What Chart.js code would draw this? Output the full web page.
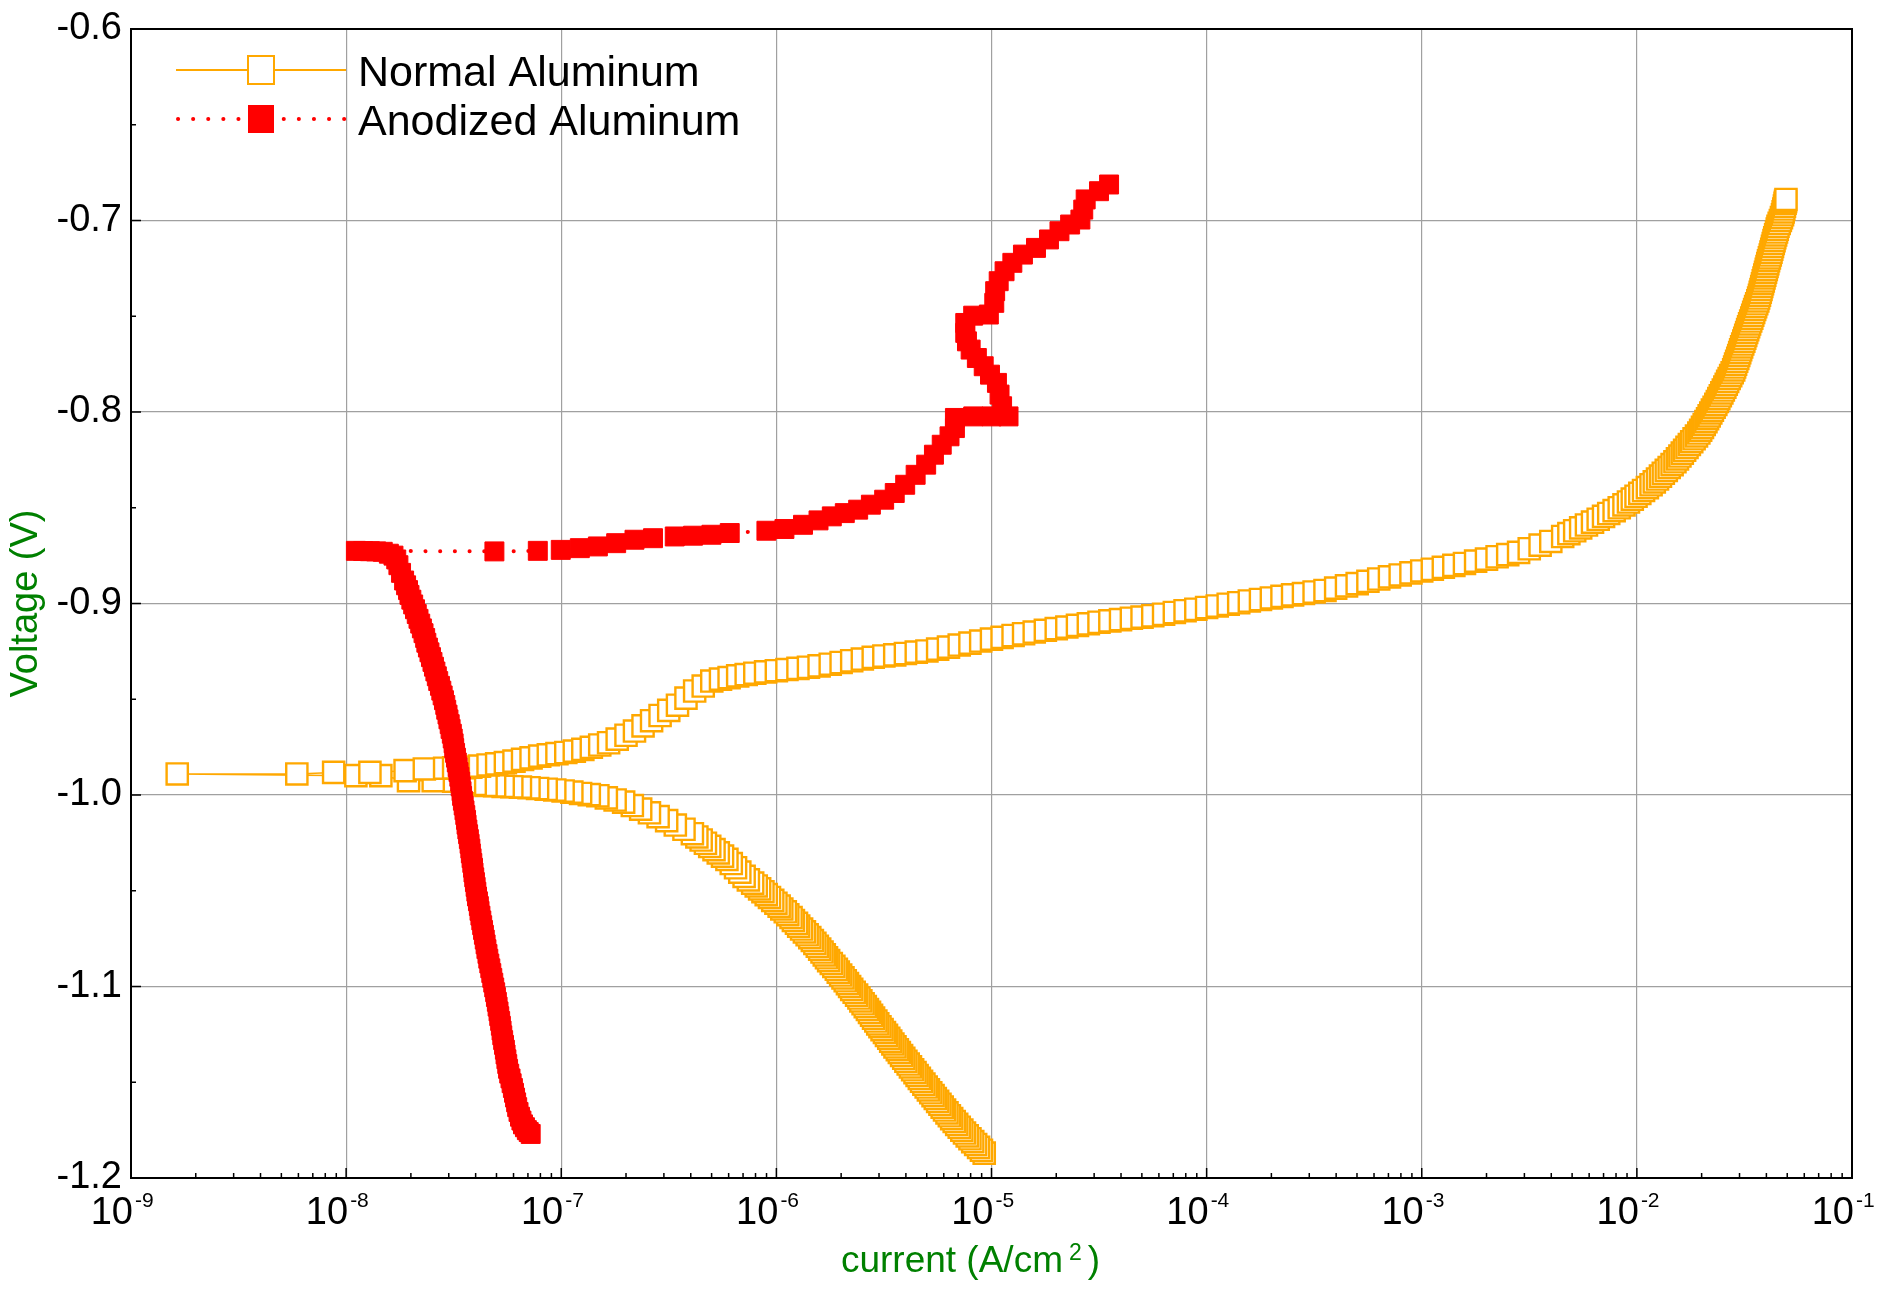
<!DOCTYPE html>
<html>
<head>
<meta charset="utf-8">
<title>Polarization curves</title>
<script src="https://cdn.jsdelivr.net/npm/chart.js@4.4.1/dist/chart.umd.min.js"></script>
<style>
  html, body { margin: 0; background: #fff; }
  #wrap { width: 1888px; height: 1292px; position: relative; }
</style>
</head>
<body>
<div id="wrap"><canvas id="chart"></canvas></div>
<script>
// axis ticks
const voltageTicks = [-1.2, -1.1, -1.0, -0.9, -0.8, -0.7, -0.6];
const voltageLabels = ['-1.2', '-1.1', '-1.0', '-0.9', '-0.8', '-0.7', '-0.6'];
const currentTicks = [1e-9, 1e-8, 1e-7, 1e-6, 1e-5, 1e-4, 1e-3, 1e-2, 1e-1];
const currentExponents = ['-9', '-8', '-7', '-6', '-5', '-4', '-3', '-2', '-1'];

// Normal aluminum, cathodic sweep (from -1.19 V up to the corrosion potential)
const normalCathodicVoltage = [
  -1.187, -1.1855, -1.184, -1.1825, -1.181, -1.1795, -1.178, -1.1765, -1.175, -1.1735,
  -1.172, -1.1705, -1.169, -1.1675, -1.166, -1.1645, -1.163, -1.1615, -1.160, -1.1585,
  -1.157, -1.1555, -1.154, -1.1525, -1.151, -1.1495, -1.148, -1.1465, -1.145, -1.1435,
  -1.142, -1.1405, -1.139, -1.1375, -1.136, -1.1345, -1.133, -1.1315, -1.130, -1.1285,
  -1.127, -1.1255, -1.124, -1.1225, -1.121, -1.1195, -1.118, -1.1165, -1.115, -1.1135,
  -1.112, -1.1105, -1.109, -1.1075, -1.106, -1.1045, -1.103, -1.1015, -1.100, -1.0985,
  -1.097, -1.0955, -1.094, -1.0925, -1.091, -1.0895, -1.088, -1.0865, -1.085, -1.0835,
  -1.082, -1.0805, -1.079, -1.0775, -1.076, -1.0745, -1.073, -1.0715, -1.070, -1.0685,
  -1.067, -1.0655, -1.064, -1.0625, -1.061, -1.0595, -1.058, -1.0565, -1.055, -1.0535,
  -1.052, -1.0505, -1.049, -1.0475, -1.046,
  -1.0443, -1.0425, -1.0403, -1.038, -1.0358, -1.0336, -1.0319, -1.0302, -1.0285, -1.0268,
  -1.0252, -1.0235, -1.0219, -1.0202, -1.0179, -1.0157, -1.0134, -1.0113, -1.0093, -1.0074,
  -1.0055, -1.0037, -1.0026, -1.0015, -1.0004, -0.9998, -0.9992, -0.9985, -0.9979, -0.9974,
  -0.997, -0.9966, -0.9962, -0.9959, -0.9957, -0.9955, -0.9952, -0.995, -0.9945, -0.9935, -0.9928,
  -0.9925, -0.9925, -0.9899, -0.9899, -0.989, -0.989, -0.9882, -0.9882, -0.9873, -0.9864, -0.986
];
const normalCathodicCurrent = [
  9.25e-6, 8.98e-6, 8.71e-6, 8.44e-6, 8.18e-6, 7.94e-6, 7.71e-6, 7.49e-6, 7.28e-6, 7.08e-6,
  6.89e-6, 6.71e-6, 6.53e-6, 6.37e-6, 6.21e-6, 6.05e-6, 5.90e-6, 5.76e-6, 5.62e-6, 5.48e-6,
  5.35e-6, 5.22e-6, 5.09e-6, 4.97e-6, 4.85e-6, 4.73e-6, 4.62e-6, 4.51e-6, 4.41e-6, 4.30e-6,
  4.20e-6, 4.10e-6, 4.00e-6, 3.91e-6, 3.82e-6, 3.73e-6, 3.65e-6, 3.56e-6, 3.48e-6, 3.40e-6,
  3.33e-6, 3.25e-6, 3.18e-6, 3.10e-6, 3.03e-6, 2.96e-6, 2.90e-6, 2.83e-6, 2.77e-6, 2.71e-6,
  2.65e-6, 2.59e-6, 2.53e-6, 2.47e-6, 2.42e-6, 2.36e-6, 2.30e-6, 2.24e-6, 2.19e-6, 2.14e-6,
  2.09e-6, 2.04e-6, 1.99e-6, 1.94e-6, 1.90e-6, 1.85e-6, 1.80e-6, 1.75e-6, 1.71e-6, 1.67e-6,
  1.63e-6, 1.59e-6, 1.55e-6, 1.51e-6, 1.47e-6, 1.43e-6, 1.39e-6, 1.35e-6, 1.31e-6, 1.27e-6,
  1.24e-6, 1.20e-6, 1.17e-6, 1.13e-6, 1.10e-6, 1.06e-6, 1.03e-6, 9.95e-7, 9.62e-7, 9.29e-7,
  8.97e-7, 8.66e-7, 8.36e-7, 8.06e-7, 7.76e-7,
  7.41e-7, 7.08e-7, 6.76e-7, 6.46e-7, 6.17e-7, 5.89e-7, 5.62e-7, 5.37e-7, 5.13e-7, 4.90e-7,
  4.68e-7, 4.47e-7, 4.27e-7, 4.07e-7, 3.72e-7, 3.39e-7, 3.09e-7, 2.82e-7, 2.57e-7, 2.34e-7,
  2.14e-7, 1.95e-7, 1.78e-7, 1.62e-7, 1.48e-7, 1.35e-7, 1.23e-7, 1.12e-7, 1.02e-7, 9.33e-8,
  8.51e-8, 7.76e-8, 7.08e-8, 6.46e-8, 5.89e-8, 5.37e-8, 4.90e-8, 4.47e-8, 3.98e-8, 3.55e-8, 3.16e-8,
  2.54e-8, 1.95e-8, 1.45e-8, 1.11e-8, 1.64e-9, 5.90e-9, 8.75e-9, 1.29e-8, 1.88e-8, 2.31e-8, 2.87e-8
];

// Normal aluminum, anodic sweep
const normalAnodicVoltage = [
  -0.9858, -0.9857, -0.9855, -0.9849, -0.9843, -0.9837, -0.9831, -0.9823, -0.9814, -0.9806,
  -0.9797, -0.979, -0.9784, -0.9778, -0.9771, -0.9762, -0.9751, -0.9739, -0.9727, -0.9708,
  -0.9688, -0.9666, -0.9639, -0.9612, -0.9585, -0.9558, -0.9531, -0.9494, -0.9457, -0.9431,
  -0.9405, -0.9395, -0.9387, -0.9378, -0.9371, -0.9364,
  -0.9357, -0.9351, -0.9345, -0.9339, -0.9333, -0.9326, -0.9317, -0.9308, -0.9299, -0.929,
  -0.9281, -0.9274, -0.9268, -0.9261, -0.9254, -0.9248, -0.9238, -0.9228, -0.9217, -0.9207,
  -0.9196, -0.9186, -0.9177, -0.9167, -0.9158, -0.9149, -0.914, -0.9131, -0.9123, -0.9114,
  -0.9106, -0.9098, -0.9091, -0.9084, -0.9077, -0.9071, -0.9064, -0.9056, -0.9047, -0.9038,
  -0.903, -0.9021, -0.9013, -0.9004, -0.8996, -0.8987, -0.8979, -0.8971, -0.8963, -0.8955,
  -0.8948, -0.894, -0.8932, -0.892, -0.8908, -0.8896, -0.8884, -0.8872, -0.8861, -0.8851,
  -0.884, -0.883, -0.8821, -0.8811, -0.8801, -0.8791, -0.8779, -0.8768, -0.8756, -0.8745,
  -0.8733, -0.8714, -0.8695, -0.8676,
  -0.865, -0.8635, -0.862, -0.8605, -0.859, -0.8575, -0.856, -0.8545, -0.853, -0.8515,
  -0.850, -0.8485, -0.847, -0.8455, -0.844, -0.8425, -0.841, -0.8395, -0.838, -0.8365,
  -0.835, -0.8335, -0.832, -0.8305, -0.829, -0.8275, -0.826, -0.8245, -0.823, -0.8215,
  -0.820, -0.8185, -0.817, -0.8155, -0.814, -0.8125, -0.811, -0.8095, -0.808, -0.8065,
  -0.805, -0.8035, -0.802, -0.8005, -0.799, -0.7975, -0.796, -0.7945, -0.793, -0.7915,
  -0.790, -0.7885, -0.787, -0.7855, -0.784, -0.7825, -0.781, -0.7795, -0.778, -0.7765,
  -0.775, -0.7735, -0.772, -0.7705, -0.769, -0.7675, -0.766, -0.7645, -0.763, -0.7615,
  -0.760, -0.7585, -0.757, -0.7555, -0.754, -0.7525, -0.751, -0.7495, -0.748, -0.7465,
  -0.745, -0.7435, -0.742, -0.7405, -0.739, -0.7375, -0.736, -0.7345, -0.733, -0.7315,
  -0.730, -0.7285, -0.727, -0.7255, -0.724, -0.7225, -0.721, -0.7195, -0.718, -0.7165,
  -0.715, -0.7135, -0.712, -0.7105, -0.709, -0.7075, -0.706, -0.7045, -0.703, -0.7015,
  -0.700, -0.6985, -0.697, -0.6955, -0.694, -0.6925, -0.691, -0.690, -0.689
];
const normalAnodicCurrent = [
  3.16e-8, 3.47e-8, 3.80e-8, 4.17e-8, 4.57e-8, 5.01e-8, 5.50e-8, 6.03e-8, 6.61e-8, 7.24e-8,
  7.94e-8, 8.71e-8, 9.55e-8, 1.05e-7, 1.15e-7, 1.26e-7, 1.38e-7, 1.51e-7, 1.66e-7, 1.82e-7,
  2.00e-7, 2.19e-7, 2.40e-7, 2.63e-7, 2.88e-7, 3.16e-7, 3.47e-7, 3.80e-7, 4.17e-7, 4.57e-7,
  5.01e-7, 5.50e-7, 6.03e-7, 6.61e-7, 7.24e-7, 7.94e-7,
  8.91e-7, 1.00e-6, 1.12e-6, 1.26e-6, 1.41e-6, 1.58e-6, 1.78e-6, 2.00e-6, 2.24e-6, 2.51e-6,
  2.82e-6, 3.16e-6, 3.55e-6, 3.98e-6, 4.47e-6, 5.01e-6, 5.62e-6, 6.31e-6, 7.08e-6, 7.94e-6,
  8.91e-6, 1.00e-5, 1.12e-5, 1.26e-5, 1.41e-5, 1.58e-5, 1.78e-5, 2.00e-5, 2.24e-5, 2.51e-5,
  2.82e-5, 3.16e-5, 3.55e-5, 3.98e-5, 4.47e-5, 5.01e-5, 5.62e-5, 6.31e-5, 7.08e-5, 7.94e-5,
  8.91e-5, 1.00e-4, 1.12e-4, 1.26e-4, 1.41e-4, 1.58e-4, 1.78e-4, 2.00e-4, 2.24e-4, 2.51e-4,
  2.82e-4, 3.16e-4, 3.55e-4, 3.98e-4, 4.47e-4, 5.01e-4, 5.62e-4, 6.31e-4, 7.08e-4, 7.94e-4,
  8.91e-4, 1.00e-3, 1.12e-3, 1.26e-3, 1.41e-3, 1.58e-3, 1.78e-3, 2.00e-3, 2.24e-3, 2.51e-3,
  2.82e-3, 3.16e-3, 3.55e-3, 3.98e-3,
  4.52e-3, 4.83e-3, 5.14e-3, 5.48e-3, 5.83e-3, 6.22e-3, 6.61e-3, 7.00e-3, 7.40e-3, 7.84e-3,
  8.28e-3, 8.71e-3, 9.14e-3, 9.52e-3, 9.91e-3, 1.032e-2, 1.074e-2, 1.119e-2, 1.164e-2, 1.205e-2,
  1.247e-2, 1.287e-2, 1.327e-2, 1.370e-2, 1.413e-2, 1.458e-2, 1.503e-2, 1.544e-2, 1.585e-2, 1.626e-2,
  1.667e-2, 1.710e-2, 1.754e-2, 1.799e-2, 1.845e-2, 1.893e-2, 1.941e-2, 1.979e-2, 2.018e-2, 2.056e-2,
  2.094e-2, 2.131e-2, 2.168e-2, 2.206e-2, 2.244e-2, 2.286e-2, 2.328e-2, 2.366e-2, 2.404e-2, 2.443e-2,
  2.483e-2, 2.523e-2, 2.564e-2, 2.603e-2, 2.642e-2, 2.685e-2, 2.729e-2, 2.773e-2, 2.818e-2, 2.847e-2,
  2.877e-2, 2.910e-2, 2.944e-2, 2.975e-2, 3.006e-2, 3.037e-2, 3.069e-2, 3.105e-2, 3.141e-2, 3.173e-2,
  3.206e-2, 3.239e-2, 3.273e-2, 3.307e-2, 3.342e-2, 3.381e-2, 3.420e-2, 3.455e-2, 3.491e-2, 3.528e-2,
  3.565e-2, 3.606e-2, 3.648e-2, 3.681e-2, 3.715e-2, 3.745e-2, 3.776e-2, 3.806e-2, 3.837e-2, 3.868e-2,
  3.899e-2, 3.931e-2, 3.963e-2, 3.995e-2, 4.027e-2, 4.060e-2, 4.093e-2, 4.131e-2, 4.169e-2, 4.202e-2,
  4.236e-2, 4.270e-2, 4.305e-2, 4.340e-2, 4.375e-2, 4.416e-2, 4.457e-2, 4.493e-2, 4.529e-2, 4.587e-2,
  4.645e-2, 4.699e-2, 4.753e-2, 4.786e-2, 4.819e-2, 4.853e-2, 4.887e-2, 4.910e-2, 4.932e-2
];

// Anodized aluminum, cathodic sweep
const anodizedCathodicVoltage = [
  -1.177, -1.176, -1.175, -1.1735, -1.172, -1.170, -1.168, -1.1655, -1.163, -1.1605,
  -1.158, -1.1555, -1.153, -1.1505, -1.148, -1.1455, -1.143, -1.1405, -1.138, -1.1355,
  -1.133, -1.1305, -1.128, -1.1255, -1.123, -1.1205, -1.118, -1.1155, -1.113, -1.1105,
  -1.108, -1.1055, -1.103, -1.1005, -1.098, -1.0955, -1.093, -1.0905, -1.088, -1.0855,
  -1.083, -1.0805, -1.078, -1.0755, -1.073, -1.0705, -1.068, -1.0655, -1.063, -1.0605,
  -1.058, -1.0555, -1.053, -1.0505, -1.048, -1.0455, -1.043, -1.0405, -1.038, -1.0355,
  -1.033, -1.0305, -1.028, -1.0255, -1.023, -1.0205, -1.018, -1.0155, -1.013, -1.0105,
  -1.008, -1.0055, -1.003, -1.0005, -0.998, -0.9955, -0.993, -0.9905, -0.988, -0.9855,
  -0.983, -0.9805, -0.978, -0.9755, -0.973, -0.9705, -0.968, -0.9655, -0.963, -0.9605,
  -0.958, -0.9555, -0.953, -0.9505, -0.948, -0.9455, -0.943, -0.9405, -0.938, -0.9355,
  -0.933, -0.9305, -0.928, -0.9255, -0.923, -0.9205, -0.918, -0.9155, -0.913, -0.9105,
  -0.908, -0.9055, -0.903, -0.9005, -0.898, -0.8955, -0.893, -0.8905, -0.888,
  -0.884, -0.880, -0.877, -0.875, -0.874, -0.873, -0.8728, -0.8727, -0.8726, -0.8725
];
const anodizedCathodicCurrent = [
  7.21e-8, 7.06e-8, 6.92e-8, 6.78e-8, 6.64e-8, 6.53e-8, 6.43e-8, 6.33e-8, 6.24e-8, 6.17e-8,
  6.10e-8, 6.03e-8, 5.96e-8, 5.88e-8, 5.81e-8, 5.73e-8, 5.66e-8, 5.61e-8, 5.56e-8, 5.51e-8,
  5.47e-8, 5.42e-8, 5.37e-8, 5.32e-8, 5.28e-8, 5.24e-8, 5.20e-8, 5.15e-8, 5.11e-8, 5.06e-8,
  5.02e-8, 4.97e-8, 4.93e-8, 4.88e-8, 4.83e-8, 4.78e-8, 4.73e-8, 4.68e-8, 4.63e-8, 4.58e-8,
  4.54e-8, 4.49e-8, 4.45e-8, 4.41e-8, 4.37e-8, 4.33e-8, 4.29e-8, 4.25e-8, 4.21e-8, 4.17e-8,
  4.14e-8, 4.10e-8, 4.06e-8, 4.03e-8, 4.00e-8, 3.97e-8, 3.94e-8, 3.91e-8, 3.89e-8, 3.86e-8,
  3.83e-8, 3.80e-8, 3.78e-8, 3.75e-8, 3.72e-8, 3.69e-8, 3.66e-8, 3.63e-8, 3.61e-8, 3.58e-8,
  3.55e-8, 3.52e-8, 3.49e-8, 3.46e-8, 3.44e-8, 3.41e-8, 3.39e-8, 3.36e-8, 3.33e-8, 3.30e-8,
  3.27e-8, 3.24e-8, 3.21e-8, 3.18e-8, 3.16e-8, 3.13e-8, 3.10e-8, 3.06e-8, 3.03e-8, 2.99e-8,
  2.96e-8, 2.92e-8, 2.89e-8, 2.85e-8, 2.81e-8, 2.77e-8, 2.73e-8, 2.68e-8, 2.64e-8, 2.60e-8,
  2.56e-8, 2.52e-8, 2.48e-8, 2.44e-8, 2.40e-8, 2.36e-8, 2.33e-8, 2.29e-8, 2.25e-8, 2.21e-8,
  2.17e-8, 2.13e-8, 2.09e-8, 2.05e-8, 2.01e-8, 1.97e-8, 1.94e-8, 1.90e-8, 1.86e-8,
  1.80e-8, 1.75e-8, 1.71e-8, 1.66e-8, 1.58e-8, 1.48e-8, 1.38e-8, 1.29e-8, 1.20e-8, 1.11e-8
];

// Anodized aluminum, anodic sweep
const anodizedAnodicVoltage = [
  -0.8728, -0.8725, -0.8720, -0.8711, -0.8702, -0.8685, -0.8667, -0.8659, -0.8650, -0.8646,
  -0.8641, -0.8632, -0.8620, -0.8611, -0.8589, -0.8566, -0.8545, -0.8528, -0.8510, -0.8484,
  -0.8458, -0.8423, -0.8380, -0.8328, -0.8275, -0.8223, -0.8171, -0.8127, -0.8084, -0.8031,
  -0.8023, -0.8023, -0.8023, -0.7970, -0.7909, -0.7848, -0.7805, -0.7761, -0.7718, -0.7674,
  -0.7631, -0.7587, -0.7535, -0.7497, -0.7491, -0.7430, -0.7369, -0.7317, -0.7265, -0.7221,
  -0.7178, -0.7143, -0.7099, -0.7056, -0.7021, -0.6995, -0.6943, -0.6890, -0.6847, -0.6812
];
const anodizedAnodicCurrent = [
  4.89e-8, 7.78e-8, 9.95e-8, 1.22e-7, 1.48e-7, 1.80e-7, 2.19e-7, 2.67e-7, 3.37e-7, 4.10e-7,
  4.99e-7, 6.07e-7, 8.99e-7, 1.09e-6, 1.33e-6, 1.57e-6, 1.81e-6, 2.08e-6, 2.40e-6, 2.75e-6,
  3.17e-6, 3.55e-6, 3.97e-6, 4.44e-6, 4.97e-6, 5.40e-6, 5.87e-6, 6.38e-6, 6.76e-6, 6.76e-6,
  8.22e-6, 1.00e-5, 1.20e-5, 1.12e-5, 1.09e-5, 1.06e-5, 9.84e-6, 9.20e-6, 8.55e-6, 8.00e-6,
  7.69e-6, 7.55e-6, 7.55e-6, 8.22e-6, 9.72e-6, 1.03e-5, 1.04e-5, 1.08e-5, 1.15e-5, 1.25e-5,
  1.40e-5, 1.61e-5, 1.85e-5, 2.07e-5, 2.32e-5, 2.59e-5, 2.67e-5, 2.74e-5, 3.16e-5, 3.52e-5
];

const ORANGE = '#ffa800';
const RED = '#ff0000';
const GREEN = '#008000';
const FONT = '"Liberation Sans", Arial, sans-serif';

function toPoints(currents, voltages) {
  return currents.map((c, i) => ({ x: c, y: voltages[i] }));
}
const normalPoints = toPoints(normalCathodicCurrent, normalCathodicVoltage)
  .concat(toPoints(normalAnodicCurrent, normalAnodicVoltage));
const anodizedPoints = toPoints(anodizedCathodicCurrent, anodizedCathodicVoltage)
  .concat(toPoints(anodizedAnodicCurrent, anodizedAnodicVoltage));

// frame, inward ticks, tick labels, titles and legend
const decorations = {
  id: 'decorations',
  afterDraw(chart) {
    const { ctx, chartArea: a } = chart;
    const xs = chart.scales.x, ys = chart.scales.y;
    ctx.save();

    ctx.strokeStyle = '#000';
    ctx.lineWidth = 2;
    ctx.strokeRect(a.left, a.top, a.right - a.left, a.bottom - a.top);

    ctx.beginPath();
    voltageTicks.forEach((v, i) => {
      const py = ys.getPixelForValue(v);
      ctx.moveTo(a.left, py); ctx.lineTo(a.left + 10, py);
      if (i < voltageTicks.length - 1) {
        const pm = (py + ys.getPixelForValue(voltageTicks[i + 1])) / 2;
        ctx.moveTo(a.left, pm); ctx.lineTo(a.left + 5, pm);
      }
    });
    currentTicks.forEach((c, i) => {
      const px = xs.getPixelForValue(c);
      ctx.moveTo(px, a.bottom); ctx.lineTo(px, a.bottom - 10);
      if (i < currentTicks.length - 1) {
        for (let m = 2; m <= 9; m++) {
          const pm = xs.getPixelForValue(c * m);
          ctx.moveTo(pm, a.bottom); ctx.lineTo(pm, a.bottom - 5);
        }
      }
    });
    ctx.lineWidth = 1.5;
    ctx.stroke();

    // y tick labels
    ctx.fillStyle = '#000';
    ctx.font = '38px ' + FONT;
    ctx.textAlign = 'right';
    ctx.textBaseline = 'alphabetic';
    voltageTicks.forEach((v, i) => {
      ctx.fillText(voltageLabels[i], a.left - 9, ys.getPixelForValue(v) + 10);
    });

    // x tick labels 10^n
    ctx.textAlign = 'left';
    currentTicks.forEach((c, i) => {
      const px = xs.getPixelForValue(c);
      ctx.font = '38px ' + FONT;
      const w10 = ctx.measureText('10').width;
      const x0 = px - w10 + 2;
      ctx.fillText('10', x0, a.bottom + 46);
      ctx.font = '21px ' + FONT;
      ctx.fillText(currentExponents[i], x0 + w10 + 2, a.bottom + 29);
    });

    // axis titles
    ctx.fillStyle = GREEN;
    ctx.save();
    ctx.translate(37, (a.top + a.bottom) / 2);
    ctx.rotate(-Math.PI / 2);
    ctx.textAlign = 'center';
    ctx.font = '38px ' + FONT;
    ctx.fillText('Voltage (V)', 0, 0);
    ctx.restore();

    ctx.textAlign = 'left';
    ctx.font = '37px ' + FONT;
    const t1 = 'current (A/cm', t3 = ')';
    const w1 = ctx.measureText(t1).width, w3 = ctx.measureText(t3).width;
    ctx.font = '23px ' + FONT;
    const w2 = ctx.measureText('2').width;
    const total = w1 + 6 + w2 + 6 + w3;
    let tx = (a.left + a.right) / 2 - 21 - total / 2;
    const ty = a.bottom + 94;
    ctx.font = '37px ' + FONT;
    ctx.fillText(t1, tx, ty);
    tx += w1 + 6;
    ctx.font = '23px ' + FONT;
    ctx.fillText('2', tx, ty - 12);
    tx += w2 + 6;
    ctx.font = '37px ' + FONT;
    ctx.fillText(t3, tx, ty);

    // legend
    const lx0 = a.left + 45, lx1 = a.left + 215, mx = a.left + 130;
    const r1 = a.top + 41, r2 = a.top + 90;
    ctx.strokeStyle = ORANGE;
    ctx.lineWidth = 2;
    ctx.beginPath(); ctx.moveTo(lx0, r1); ctx.lineTo(lx1, r1); ctx.stroke();
    ctx.fillStyle = '#fff';
    ctx.fillRect(mx - 13, r1 - 14, 26, 28);
    ctx.strokeRect(mx - 13, r1 - 14, 26, 28);

    ctx.strokeStyle = RED;
    ctx.lineWidth = 4;
    ctx.lineCap = 'round';
    ctx.setLineDash([0.1, 15]);
    ctx.beginPath(); ctx.moveTo(lx0 + 2, r2); ctx.lineTo(lx1, r2); ctx.stroke();
    ctx.setLineDash([]);
    ctx.fillStyle = RED;
    ctx.fillRect(mx - 13, r2 - 14, 26, 28);

    ctx.fillStyle = '#000';
    ctx.font = '43px ' + FONT;
    ctx.fillText('Normal Aluminum', a.left + 227, r1 + 16);
    ctx.fillText('Anodized Aluminum', a.left + 227, r2 + 16);

    ctx.restore();
  }
};

new Chart(document.getElementById('chart'), {
  type: 'scatter',
  data: {
    datasets: [
      {
        label: 'Normal Aluminum',
        data: normalPoints,
        showLine: true,
        borderColor: ORANGE,
        borderWidth: 1.5,
        pointStyle: 'rect',
        pointRadius: 15,
        pointBorderWidth: 2.4,
        pointBorderColor: ORANGE,
        pointBackgroundColor: '#fff',
        order: 2
      },
      {
        label: 'Anodized Aluminum',
        data: anodizedPoints,
        showLine: true,
        borderColor: RED,
        borderWidth: 4,
        borderDash: [0.1, 14.6],
        borderCapStyle: 'round',
        pointStyle: 'rect',
        pointRadius: 13.4,
        pointBorderWidth: 1,
        pointBorderColor: RED,
        pointBackgroundColor: RED,
        order: 1
      }
    ]
  },
  options: {
    responsive: true,
    maintainAspectRatio: false,
    animation: false,
    events: [],
    layout: { padding: { left: 131, top: 29, right: 36, bottom: 114 } },
    plugins: { legend: { display: false }, tooltip: { enabled: false } },
    scales: {
      x: {
        type: 'logarithmic',
        min: 1e-9,
        max: 1e-1,
        afterBuildTicks: s => { s.ticks = currentTicks.map(v => ({ value: v })); },
        afterFit: s => { s.height = 0; },
        ticks: { display: false },
        grid: { color: '#a0a0a0', lineWidth: 1.2, drawTicks: false },
        border: { display: false }
      },
      y: {
        type: 'linear',
        min: -1.2,
        max: -0.6,
        afterBuildTicks: s => { s.ticks = voltageTicks.map(v => ({ value: v })); },
        afterFit: s => { s.width = 0; },
        ticks: { display: false },
        grid: { color: '#a0a0a0', lineWidth: 1.2, drawTicks: false },
        border: { display: false }
      }
    }
  },
  plugins: [decorations]
});
</script>
</body>
</html>
